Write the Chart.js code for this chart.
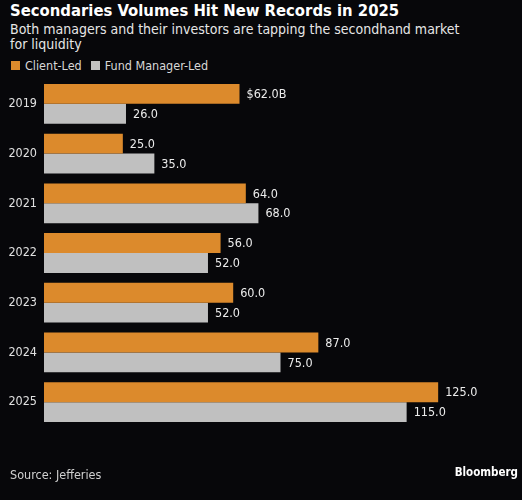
<!DOCTYPE html>
<html>
<head>
<meta charset="utf-8">
<script src="https://cdn.jsdelivr.net/npm/chart.js@4"></script>
<style>
  html, body { margin: 0; padding: 0; background: #07070a; }
  body { width: 522px; height: 500px; position: relative; overflow: hidden; font-family: "DejaVu Sans Condensed", "DejaVu Sans", sans-serif; font-stretch: condensed; color: #f0f0f0; }
  #title { position: absolute; left: 10px; top: 1px; font-size: 16.5px; font-weight: bold; color: #ffffff; }
  #subtitle { position: absolute; left: 10px; top: 22px; font-size: 14px; line-height: 15px; color: #e6e6e6; width: 450px; }
  #legend { position: absolute; left: 11px; top: 58px; font-size: 12.5px; color: #d8d8d8; }
  #legend span.sw { display: inline-block; width: 9px; height: 9px; margin-right: 5px; }
  #legend span.item { margin-right: 9px; }
  #source { position: absolute; left: 10px; top: 467px; font-size: 12.5px; color: #d0d0d0; }
  #brand { position: absolute; right: 4px; top: 465px; font-size: 11.5px; font-weight: bold; color: #ffffff; }
  #wrap { position: absolute; left: 0; top: 0; width: 522px; height: 500px; }
</style>
</head>
<body>
<div id="title">Secondaries Volumes Hit New Records in 2025</div>
<div id="subtitle">Both managers and their investors are tapping the secondhand market for liquidity</div>
<div id="legend"><span class="item"><span class="sw" style="background:#dc8a2c"></span>Client-Led</span><span class="item"><span class="sw" style="background:#c0c0c0"></span>Fund Manager-Led</span></div>
<div id="wrap"><canvas id="chart"></canvas></div>
<div id="source">Source: Jefferies</div>
<div id="brand">Bloomberg</div>
<script>
const years = ['2019', '2020', '2021', '2022', '2023', '2024', '2025'];
const clientLed = [62, 25, 64, 56, 60, 87, 125];
const fundManagerLed = [26, 35, 68, 52, 52, 75, 115];

const labelFont = '12.5px "DejaVu Sans Condensed", "DejaVu Sans", sans-serif';

const valueLabels = {
  id: 'valueLabels',
  afterDatasetsDraw(chart) {
    const ctx = chart.ctx;
    ctx.save();
    ctx.font = labelFont;
    ctx.fillStyle = '#ececec';
    ctx.textBaseline = 'middle';
    ctx.textAlign = 'left';
    chart.data.datasets.forEach((ds, di) => {
      chart.getDatasetMeta(di).data.forEach((bar, i) => {
        let txt = ds.data[i].toFixed(1);
        if (di === 0 && i === 0) txt = '$' + txt + 'B';
        ctx.fillText(txt, bar.x + 7, bar.y + 1);
      });
    });
    ctx.restore();
  }
};

new Chart(document.getElementById('chart'), {
  type: 'bar',
  data: {
    labels: years,
    datasets: [
      { label: 'Client-Led', data: clientLed, backgroundColor: '#dc8a2c' },
      { label: 'Fund Manager-Led', data: fundManagerLed, backgroundColor: '#c0c0c0' }
    ]
  },
  options: {
    indexAxis: 'y',
    responsive: true,
    maintainAspectRatio: false,
    animation: false,
    layout: { padding: { top: 79, bottom: 73, left: 0, right: 5 } },
    datasets: { bar: { categoryPercentage: 0.8, barPercentage: 1.0 } },
    plugins: { legend: { display: false }, tooltip: { enabled: false } },
    scales: {
      x: { min: 0, max: 150, display: false },
      y: {
        grid: { display: false, drawTicks: false },
        border: { display: false },
        ticks: { color: '#e0e0e0', font: { family: '"DejaVu Sans Condensed", "DejaVu Sans"', size: 12.5 }, padding: 7 },
        afterFit(scale) { scale.width = 44; }
      }
    }
  },
  plugins: [valueLabels]
});
</script>
</body>
</html>
